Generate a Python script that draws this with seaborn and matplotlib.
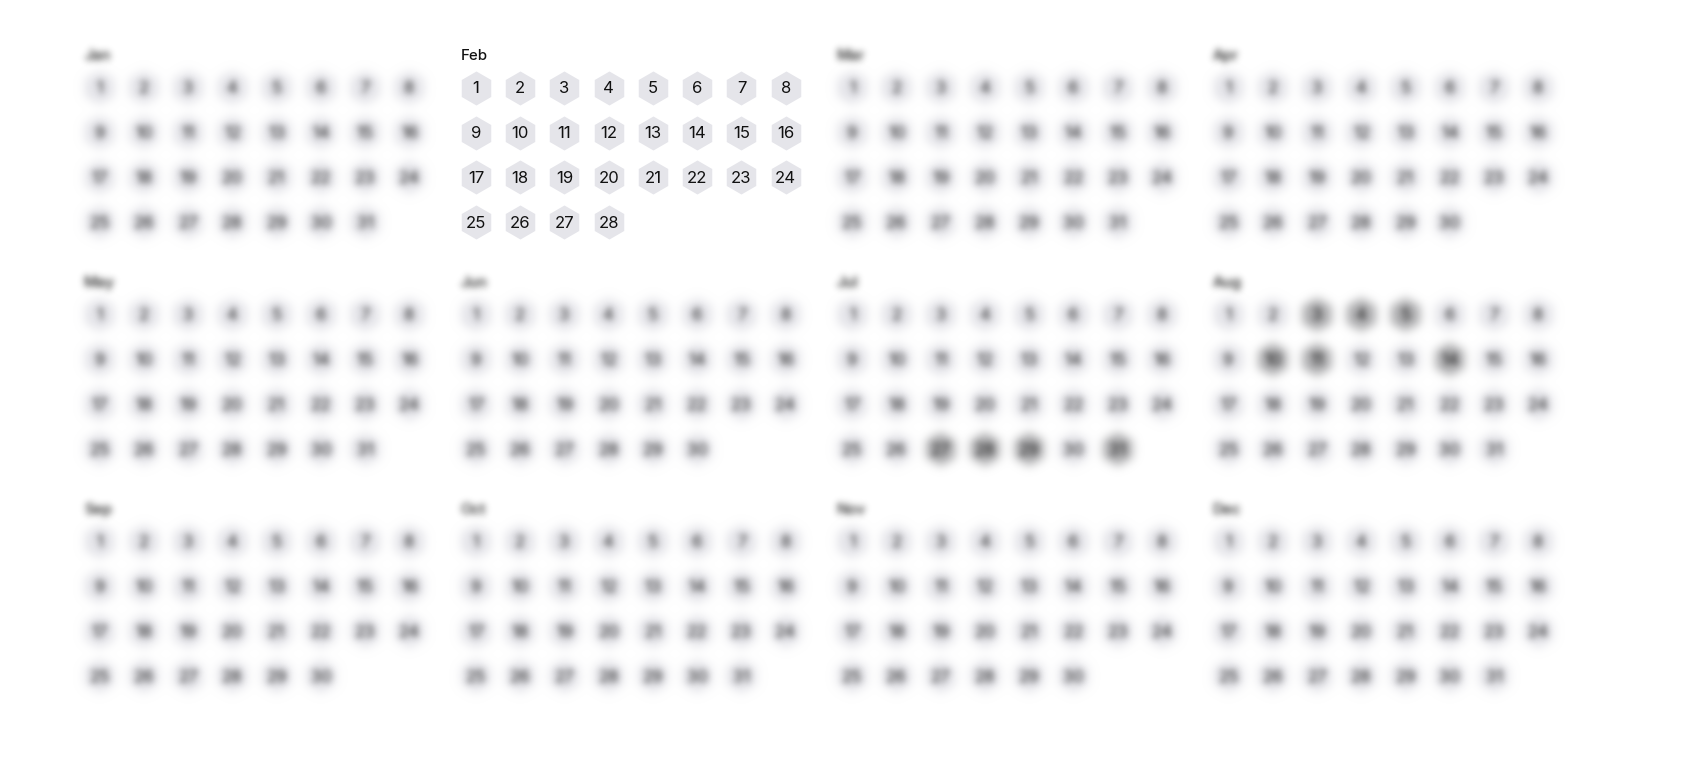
import numpy as np
import pandas as pd
import matplotlib
matplotlib.use("Agg")
import matplotlib.pyplot as plt
import seaborn as sns

# calendar data
months = ["Jan", "Feb", "Mar", "Apr", "May", "Jun",
          "Jul", "Aug", "Sep", "Oct", "Nov", "Dec"]
days_in_month = [31, 28, 31, 30, 31, 30, 31, 31, 30, 31, 30, 31]
focus_month = "Feb"
marked_days = {"Jul": [27, 28, 29, 31], "Aug": [3, 4, 5, 10, 11, 14]}

# layout in pixels
W, H = 1682, 784
x0, y0 = 99.7, 87.7
month_dx, month_dy = 376.3, 227.0
cell_dx, cell_dy = 44.25, 44.8
per_row, month_cols = 8, 4

rows = []
for mi, (m, n) in enumerate(zip(months, days_in_month)):
    for d in range(1, n + 1):
        rows.append({
            "month": m,
            "day": d,
            "x": x0 + (mi % month_cols) * month_dx + ((d - 1) % per_row) * cell_dx,
            "y": y0 + (mi // month_cols) * month_dy + ((d - 1) // per_row) * cell_dy,
            "state": "marked" if d in marked_days.get(m, []) else "plain",
        })
df = pd.DataFrame(rows)


def gauss_blur(sigma):
    # agg filter: gaussian blur on premultiplied rgba
    def _f(im, dpi):
        pad = int(np.ceil(3 * sigma))
        src = np.pad(im, [(pad, pad), (pad, pad), (0, 0)], mode="constant")
        a = src[..., 3:4]
        pm = np.concatenate([src[..., :3] * a, a], axis=2)
        k = np.arange(-pad, pad + 1)
        w = np.exp(-0.5 * (k / sigma) ** 2)
        w /= w.sum()
        for axis in (0, 1):
            out = np.zeros_like(pm)
            for ki, wi in zip(k, w):
                out += wi * np.roll(pm, ki, axis=axis)
            pm = out
        alpha = pm[..., 3:4]
        rgb = np.where(alpha > 1e-6, pm[..., :3] / np.maximum(alpha, 1e-6), 1.0)
        res = np.concatenate([np.clip(rgb, 0, 1), np.clip(alpha, 0, 1)], axis=2)
        return res, -pad, -pad
    return _f


sns.set_theme(style="white")
plt.rcParams["font.family"] = ["Inter", "DejaVu Sans"]

fig = plt.figure(figsize=(W / 100, H / 100), dpi=100)
ax = fig.add_axes([0, 0, 1, 1])
ax.set_xlim(0, W)
ax.set_ylim(H, 0)
ax.axis("off")

hex_light = "#e5e5ea"
hex_dark = "#aeaeb0"
hex_size = 600
blur = gauss_blur(3.4)

blurred = df[df["month"] != focus_month]
sharp = df[df["month"] == focus_month]

sns.scatterplot(data=blurred, x="x", y="y", hue="state",
                palette={"plain": hex_light, "marked": hex_dark},
                marker="h", s=hex_size, linewidth=0, legend=False, ax=ax)
ax.collections[-1].set_agg_filter(blur)

sns.scatterplot(data=sharp, x="x", y="y", color=hex_light,
                marker="h", s=hex_size, linewidth=0, legend=False, ax=ax)

ax.set_xlim(0, W)
ax.set_ylim(H, 0)
ax.set_xlabel("")
ax.set_ylabel("")

for _, r in df.iterrows():
    t = ax.text(r["x"], r["y"] + 1.2, str(r["day"]), ha="center", va="center",
                fontsize=12, color="#111111")
    if r["month"] != focus_month:
        t.set_agg_filter(blur)

for mi, m in enumerate(months):
    lx = x0 + (mi % month_cols) * month_dx - 15.5
    ly = y0 + (mi // month_cols) * month_dy - 31.5
    t = ax.text(lx, ly, m, ha="left", va="center", fontsize=10.8,
                fontweight="medium", color="#111111")
    if m != focus_month:
        t.set_agg_filter(blur)

fig.savefig("out.png", dpi=100, facecolor="white")
